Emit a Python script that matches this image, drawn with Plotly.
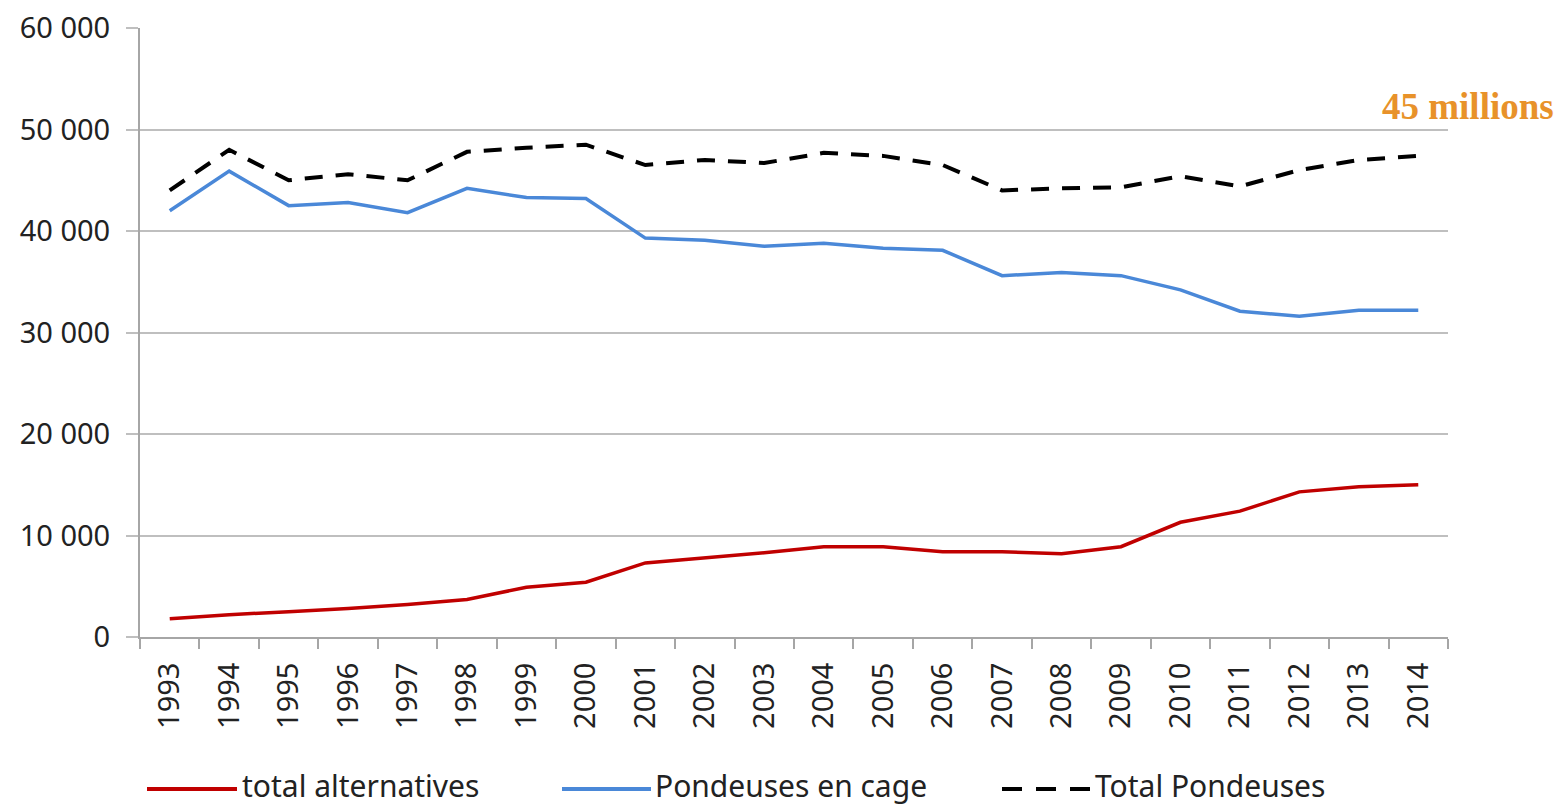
import plotly.graph_objects as go

years = [str(y) for y in range(1993, 2015)]
total_alternatives = [1800, 2200, 2500, 2800, 3200, 3700, 4900, 5400, 7300, 7800, 8300, 8900,
                      8900, 8400, 8400, 8200, 8900, 11300, 12400, 14300, 14800, 15000]
pondeuses_cage = [42000, 45900, 42500, 42800, 41800, 44200, 43300, 43200, 39300, 39100, 38500, 38800,
                  38300, 38100, 35600, 35900, 35600, 34200, 32100, 31600, 32200, 32200]
total_pondeuses = [44000, 48000, 45000, 45600, 45000, 47800, 48200, 48500, 46500, 47000, 46700, 47700,
                   47400, 46500, 44000, 44200, 44300, 45400, 44400, 46000, 47000, 47400]
y_ticks = [0, 10000, 20000, 30000, 40000, 50000, 60000]
y_tick_labels = ["0", "10 000", "20 000", "30 000", "40 000", "50 000", "60 000"]
series_names = ["total alternatives", "Pondeuses en cage", "Total Pondeuses"]

RED = "#C00000"
BLUE = "#4A88D8"
TXT = "#222222"
FONT = "Noto Sans"

fig = go.Figure()
fig.add_trace(go.Scatter(x=years, y=total_alternatives, mode="lines", name=series_names[0],
                         line=dict(color=RED, width=3.5)))
fig.add_trace(go.Scatter(x=years, y=pondeuses_cage, mode="lines", name=series_names[1],
                         line=dict(color=BLUE, width=3.5)))
fig.add_trace(go.Scatter(x=years, y=total_pondeuses, mode="lines", name=series_names[2],
                         line=dict(color="black", width=4, dash="18px,13px")))

fig.update_layout(
    width=1559, height=807,
    margin=dict(l=140, r=111, t=28, b=170),
    plot_bgcolor="white", paper_bgcolor="white",
    showlegend=False,
    font=dict(family=FONT, size=29, color=TXT),
    xaxis=dict(type="category", showgrid=False, showline=True, linecolor="#a6a6a6", linewidth=2,
               ticks="outside", tickson="boundaries", ticklen=10, tickcolor="#a6a6a6", tickwidth=2,
               tickangle=-90, tickfont=dict(size=29, family=FONT, color=TXT),
               ticklabelstandoff=12, ticklabeloverflow="allow", automargin=False,
               range=[-0.5, 21.5]),
    yaxis=dict(range=[0, 60000], tickvals=y_ticks, ticktext=y_tick_labels,
               showgrid=True, gridcolor="#bfbfbf", gridwidth=2, zeroline=False,
               showline=True, linecolor="#a6a6a6", linewidth=2,
               ticks="outside", ticklen=12, tickcolor="#bfbfbf", tickwidth=2,
               ticklabelstandoff=10, ticklabeloverflow="allow", automargin=False,
               tickfont=dict(size=29, family=FONT, color=TXT)),
)

# manual legend (long line samples like the original); positions in screen pixels
legend_line_y = 789
legend_text_y = 785
legend_items = [
    (147, 237, 243, series_names[0], dict(color=RED, width=4)),
    (562, 651, 656, series_names[1], dict(color=BLUE, width=4)),
    (1002, 1090, 1096, series_names[2], dict(color="black", width=4, dash="20px,14px")),
]
for x0, x1, xt, label, ln in legend_items:
    fig.add_shape(type="line", xref="paper", yref="paper",
                  x0=(x0 - 140) / 1308, x1=(x1 - 140) / 1308,
                  y0=(637 - legend_line_y) / 609, y1=(637 - legend_line_y) / 609, line=ln)
    fig.add_annotation(xref="paper", yref="paper", x=(xt - 140) / 1308, y=(637 - legend_text_y) / 609,
                       text=label, showarrow=False, xanchor="left", yanchor="middle",
                       xshift=-2, borderpad=0, font=dict(size=30, family=FONT, color=TXT))

fig.add_annotation(xref="paper", yref="paper", x=(1555 - 140) / 1308, y=(637 - 107) / 609,
                   text="<b>45 millions</b>", showarrow=False, xanchor="right", yanchor="middle",
                   borderpad=0, font=dict(size=37, family="Liberation Serif", color="#E8922A"))

# remove the default page margin so the figure fills the window exactly
fig.write_html("out.html", config={"displayModeBar": False},
               post_script="document.body.style.margin='0';document.body.style.overflow='hidden';")
